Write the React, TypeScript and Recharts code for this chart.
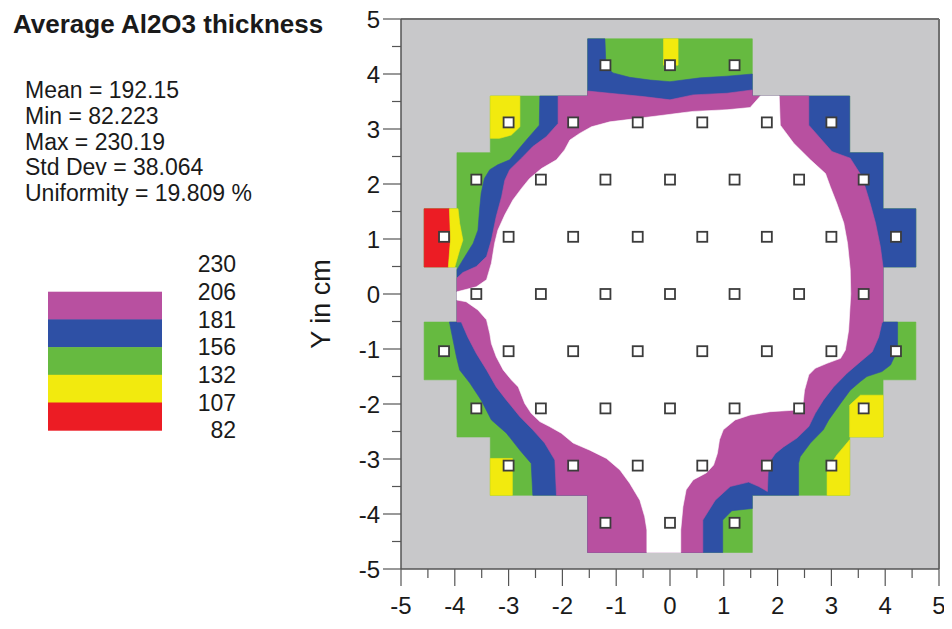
import React from 'react';
import { ScatterChart, Scatter, XAxis, YAxis, CartesianGrid, ReferenceLine } from 'recharts';

type P = [number, number];

const FONT = '"Liberation Sans", Arial, Helvetica, sans-serif';

const titleText = 'Average Al2O3 thickness';
const statLines = ['Mean = 192.15', 'Min = 82.223', 'Max = 230.19', 'Std Dev = 38.064', 'Uniformity = 19.809 %'];
const levelValues = [230, 206, 181, 156, 132, 107, 82];
const levelColors = ['#FFFFFF', '#B850A0', '#2E50A5', '#66BA40', '#F2EA0E', '#EC1C24'];
const yAxisTitle = 'Y in cm';

const xTicks = [-5, -4.5, -4, -3.5, -3, -2.5, -2, -1.5, -1, -0.5, 0, 0.5, 1, 1.5, 2, 2.5, 3, 3.5, 4, 4.5, 5];
const yTicks = [-5, -4.5, -4, -3.5, -3, -2.5, -2, -1.5, -1, -0.5, 0, 0.5, 1, 1.5, 2, 2.5, 3, 3.5, 4, 4.5, 5];

// measurement sites
const siteRowY = [4.16, 3.12, 2.08, 1.04, 0, -1.04, -2.08, -3.12, -4.16];
const siteRowX = [
  [-1.2, 0, 1.2],
  [-3, -1.8, -0.6, 0.6, 1.8, 3],
  [-3.6, -2.4, -1.2, 0, 1.2, 2.4, 3.6],
  [-4.2, -3, -1.8, -0.6, 0.6, 1.8, 3, 4.2],
  [-3.6, -2.4, -1.2, 0, 1.2, 2.4, 3.6],
  [-4.2, -3, -1.8, -0.6, 0.6, 1.8, 3, 4.2],
  [-3.6, -2.4, -1.2, 0, 1.2, 2.4, 3.6],
  [-3, -1.8, -0.6, 0.6, 1.8, 3],
  [-1.2, 0, 1.2],
];

// contour regions (x, y in cm)
const regionAll: P[] = [
  [-1.53, 4.64], [1.53, 4.64], [1.53, 3.6], [3.34, 3.6], [3.34, 2.57], [3.96, 2.57], [3.96, 1.55], [4.57, 1.55],
  [4.57, 0.49], [3.96, 0.49], [3.96, -0.51], [4.57, -0.51], [4.57, -1.56], [3.96, -1.56], [3.96, -2.6], [3.34, -2.6],
  [3.34, -3.66], [1.53, -3.66], [1.53, -4.7], [-1.53, -4.7], [-1.53, -3.66], [-3.34, -3.66], [-3.34, -2.6],
  [-3.96, -2.6], [-3.96, -1.56], [-4.57, -1.56], [-4.57, -0.51], [-3.96, -0.51], [-3.96, 0.49], [-4.57, 0.49],
  [-4.57, 1.55], [-3.96, 1.55], [-3.96, 2.57], [-3.34, 2.57], [-3.34, 3.6], [-1.53, 3.6],
];

const regionRed: P[] = [[-4.57, 1.55], [-4.1, 1.55], [-4.08, 1.0], [-4.12, 0.49], [-4.57, 0.49]];

const yellowTop: P[] = [[-0.12, 4.64], [0.15, 4.64], [0.15, 4.16], [-0.12, 4.16]];
const yellowLeftRow1: P[] = [
  [-4.1, 1.55], [-3.94, 1.55], [-3.91, 1.285], [-3.85, 0.98], [-3.91, 0.8], [-4.0, 0.49], [-4.12, 0.49], [-4.08, 1.0],
];
const yellowUpperLeft: P[] = [[-3.34, 3.6], [-2.79, 3.6], [-2.79, 3.04], [-2.95, 2.89], [-3.17, 2.83], [-3.34, 2.83]];
const yellowLowerLeft: P[] = [[-3.34, -2.99], [-2.93, -2.99], [-2.93, -3.66], [-3.34, -3.66]];
const yellowLowerRightA: P[] = [[3.54, -1.84], [3.96, -1.84], [3.96, -2.6], [3.34, -2.6], [3.34, -2.02]];
const yellowLowerRightB: P[] = [[3.34, -2.65], [3.34, -3.66], [2.92, -3.66], [2.92, -3.2], [3.1, -2.93]];

const regionBlue: P[] = [
  [-1.21, 4.64], [-1.19, 4.13], [-1.06, 4.02], [-0.75, 3.94], [-0.37, 3.89], [0, 3.86], [0.56, 3.93], [1.06, 3.96],
  [1.53, 4.0], [1.53, 3.6], [3.34, 3.6], [3.34, 2.57], [3.96, 2.57], [3.96, 1.55], [4.57, 1.55], [4.57, 0.49],
  [3.96, 0.49], [3.96, -0.51], [4.23, -0.51], [4.23, -1.02], [4.1, -1.29], [3.94, -1.41], [3.66, -1.5], [3.54, -1.59],
  [3.35, -1.75], [3.17, -1.99], [2.95, -2.29], [2.85, -2.47], [2.61, -2.71], [2.42, -2.96], [2.39, -3.08],
  [2.39, -3.66], [1.53, -3.66], [1.53, -3.9], [1.15, -3.94], [0.98, -4.11], [0.98, -4.7], [-1.53, -4.7],
  [-1.53, -3.66], [-2.55, -3.66], [-2.58, -3.08], [-2.79, -2.84], [-3.04, -2.53], [-3.32, -2.29], [-3.51, -1.93],
  [-3.72, -1.62], [-3.91, -1.38], [-3.97, -1.14], [-4.1, -0.51], [-3.96, -0.51], [-3.96, 0.44], [-3.85, 0.62],
  [-3.66, 0.92], [-3.57, 1.16], [-3.54, 1.53], [-3.51, 1.83], [-3.45, 2.1], [-3.35, 2.26], [-3.2, 2.35],
  [-2.98, 2.44], [-2.67, 2.8], [-2.43, 3.07], [-2.42, 3.6], [-1.53, 3.6], [-1.53, 4.64],
];

const regionMagenta: P[] = [
  [-1.53, 3.69], [-1.12, 3.65], [-0.5, 3.59], [0, 3.53], [0.43, 3.62], [1.06, 3.65], [1.53, 3.71], [1.53, 3.6],
  [2.58, 3.6], [2.58, 3.07], [3.01, 2.59], [3.35, 2.47], [3.57, 2.13], [3.72, 1.65], [3.82, 1.29], [3.91, 0.86],
  [3.96, 0.49], [3.96, -0.51], [3.94, -0.52], [3.88, -0.78], [3.76, -1.05], [3.54, -1.23], [3.29, -1.44],
  [3.04, -1.69], [2.85, -1.93], [2.7, -2.17], [2.58, -2.41], [2.36, -2.62], [2.11, -2.78], [1.96, -2.9],
  [1.83, -3.08], [1.81, -3.59], [1.65, -3.5], [1.46, -3.42], [1.12, -3.5], [0.84, -3.75], [0.61, -4.11],
  [0.61, -4.7], [-1.53, -4.7], [-1.53, -3.66], [-2.11, -3.66], [-2.14, -3.02], [-2.33, -2.71], [-2.55, -2.47],
  [-2.79, -2.23], [-3.04, -1.93], [-3.23, -1.69], [-3.41, -1.38], [-3.6, -1.08], [-3.76, -0.78], [-3.88, -0.51],
  [-3.96, -0.51], [-3.96, 0.29], [-3.85, 0.39], [-3.6, 0.5], [-3.41, 0.68], [-3.32, 0.98], [-3.23, 1.41],
  [-3.13, 1.77], [-3.07, 2.07], [-2.98, 2.26], [-2.76, 2.47], [-2.55, 2.68], [-2.3, 2.86], [-2.08, 3.1],
  [-2.08, 3.6], [-1.53, 3.6],
];

const regionWhite: P[] = [
  [-3.96, 0.04], [-3.6, 0.13], [-3.41, 0.26], [-3.32, 0.56], [-3.26, 0.92], [-3.2, 1.16], [-3.07, 1.44],
  [-2.92, 1.71], [-2.76, 1.92], [-2.61, 2.1], [-2.39, 2.28], [-2.11, 2.44], [-1.96, 2.62], [-1.86, 2.8],
  [-1.68, 2.92], [-1.46, 3.04], [-1.12, 3.13], [-0.62, 3.19], [-0.13, 3.25], [0.19, 3.29], [0.43, 3.32],
  [1.06, 3.35], [1.49, 3.39], [1.68, 3.6], [2.03, 3.6], [2.05, 3.07], [2.3, 2.74], [2.61, 2.44], [2.89, 2.19],
  [2.98, 1.95], [3.1, 1.65], [3.23, 1.29], [3.3, 0.92], [3.35, 0.44], [3.36, 0.0], [3.32, -0.66], [3.26, -1.02],
  [3.17, -1.17], [2.92, -1.26], [2.7, -1.35], [2.58, -1.47], [2.5, -1.75], [2.47, -2.02], [2.36, -2.11],
  [1.86, -2.14], [1.49, -2.2], [1.21, -2.29], [0.99, -2.47], [0.92, -2.65], [0.88, -2.9], [0.81, -3.11],
  [0.68, -3.25], [0.43, -3.38], [0.3, -3.56], [0.24, -3.87], [0.2, -4.29], [0.2, -4.7], [-0.43, -4.7],
  [-0.43, -4.29], [-0.47, -4.05], [-0.56, -3.75], [-0.75, -3.44], [-0.93, -3.2], [-1.18, -2.99], [-1.49, -2.84],
  [-1.8, -2.71], [-2.02, -2.53], [-2.24, -2.41], [-2.42, -2.32], [-2.58, -2.17], [-2.7, -1.99], [-2.82, -1.69],
  [-2.95, -1.56], [-3.1, -1.38], [-3.23, -1.14], [-3.32, -0.9], [-3.35, -0.72], [-3.41, -0.47], [-3.57, -0.29],
  [-3.79, -0.14], [-3.96, -0.11],
];

const layers: { pts: P[]; color: string }[] = [
  { pts: regionAll, color: levelColors[3] },
  { pts: regionRed, color: levelColors[5] },
  { pts: yellowTop, color: levelColors[4] },
  { pts: yellowLeftRow1, color: levelColors[4] },
  { pts: yellowUpperLeft, color: levelColors[4] },
  { pts: yellowLowerLeft, color: levelColors[4] },
  { pts: yellowLowerRightA, color: levelColors[4] },
  { pts: yellowLowerRightB, color: levelColors[4] },
  { pts: regionBlue, color: levelColors[2] },
  { pts: regionMagenta, color: levelColors[1] },
  { pts: regionWhite, color: levelColors[0] },
];

const sites = siteRowY.flatMap((y, r) => siteRowX[r].map((x) => ({ x, y })));

const toPts = (arr: P[]) => arr.map(([x, y]) => ({ x, y }));

const Hidden = () => <g />;

const fillPoly = (color: string) => (props: any) => {
  const pts = (props.points || []).filter((p: any) => p && p.x != null && p.y != null);
  if (!pts.length) return <g />;
  const d = pts.map((p: any, i: number) => `${i ? 'L' : 'M'}${p.x},${p.y}`).join(' ') + ' Z';
  return <path d={d} fill={color} stroke={color} strokeWidth={0.6} strokeLinejoin="round" />;
};

const SiteMarker = (props: any) => {
  const { cx, cy } = props;
  if (cx == null || cy == null) return <g />;
  return <rect x={cx - 5} y={cy - 5} width={10} height={10} fill="#ffffff" stroke="#3c3c3c" strokeWidth={1.8} />;
};

const isMajor = (v: number) => Math.abs(v - Math.round(v)) < 1e-6;

const XTick = (props: any) => {
  const { x, y, payload } = props;
  const v = payload.value;
  const major = isMajor(v);
  return (
    <g>
      <line x1={x} y1={y} x2={x} y2={y + (major ? 17 : 9)} stroke="#555" strokeWidth={1.2} />
      {major && (
        <text x={x} y={y + 45} textAnchor="middle" fontSize={24} fill="#1a1a1a" fontFamily={FONT}>
          {String(v)}
        </text>
      )}
    </g>
  );
};

const YTick = (props: any) => {
  const { x, y, payload } = props;
  const v = payload.value;
  const major = isMajor(v);
  return (
    <g>
      <line x1={x - (major ? 18 : 9)} y1={y} x2={x} y2={y} stroke="#555" strokeWidth={1.2} />
      {major && (
        <text x={x - 21} y={y} dy="0.36em" textAnchor="end" fontSize={24} fill="#1a1a1a" fontFamily={FONT}>
          {String(v)}
        </text>
      )}
    </g>
  );
};

const W = 944;
const H = 629;

export default function App() {
  const legendTop = 264;
  const legendStep = 27.7;
  return (
    <div style={{ position: 'relative', width: W, height: H, marginTop: -8, background: '#fff' }}>
      <ScatterChart width={W} height={H} margin={{ top: 19, right: 13, bottom: 0, left: 333 }}>
        <CartesianGrid horizontal={false} vertical={false} fill="#C8C8CA" fillOpacity={1} />
        <XAxis
          type="number"
          dataKey="x"
          domain={[-5, 5]}
          ticks={xTicks}
          interval={0}
          tickSize={0}
          tickMargin={0}
          tickLine={false}
          axisLine={{ stroke: '#555', strokeWidth: 1.5 }}
          tick={(p: any) => <XTick {...p} />}
          height={60}
          allowDataOverflow
        />
        <YAxis
          type="number"
          dataKey="y"
          domain={[-5, 5]}
          ticks={yTicks}
          interval={0}
          tickSize={0}
          tickMargin={0}
          tickLine={false}
          axisLine={{ stroke: '#555', strokeWidth: 1.5 }}
          tick={(p: any) => <YTick {...p} />}
          width={60}
          allowDataOverflow
        />
        {layers.map((l, i) => (
          <Scatter
            key={`layer-${i}`}
            data={toPts(l.pts)}
            fill={l.color}
            line={fillPoly(l.color)}
            shape={Hidden}
            isAnimationActive={false}
          />
        ))}
        <Scatter data={sites} shape={SiteMarker} isAnimationActive={false} />
        <ReferenceLine y={5} stroke="#707070" strokeWidth={2} />
        <ReferenceLine x={5} stroke="#707070" strokeWidth={2} />
      </ScatterChart>
      <svg
        width={W}
        height={H}
        style={{ position: 'absolute', left: 0, top: 0, pointerEvents: 'none' }}
      >
        <text x={5} y={33} fontSize={26} fontWeight="bold" fill="#1a1a1a" fontFamily={FONT}>
          {titleText}
        </text>
        {statLines.map((s, i) => (
          <text key={s} x={17} y={98 + i * 25.8} fontSize={23} fill="#1a1a1a" fontFamily={FONT}>
            {s}
          </text>
        ))}
        {levelColors.map((c, i) => (
          <rect key={`band-${i}`} x={40} y={legendTop + i * legendStep} width={114} height={legendStep + 0.5} fill={c} />
        ))}
        {levelValues.map((v, i) => (
          <text
            key={`lv-${v}`}
            x={228}
            y={legendTop + i * legendStep}
            dy="0.36em"
            textAnchor="end"
            fontSize={23}
            fill="#1a1a1a"
            fontFamily={FONT}
          >
            {v}
          </text>
        ))}
        <text
          transform="translate(322, 304) rotate(-90)"
          textAnchor="middle"
          fontSize={27}
          fill="#1a1a1a"
          fontFamily={FONT}
        >
          {yAxisTitle}
        </text>
      </svg>
    </div>
  );
}
